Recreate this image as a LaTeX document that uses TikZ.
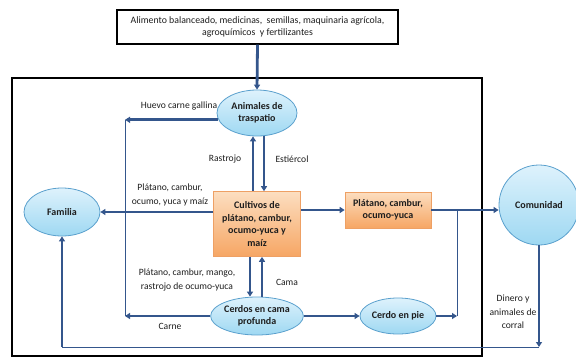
\documentclass[tikz,border=0pt]{standalone}
\usepackage{fontspec}
\setmainfont{Carlito}
\usetikzlibrary{shapes.geometric,arrows.meta,calc}
\definecolor{lineblue}{RGB}{52,86,140}
\definecolor{ellborder}{RGB}{90,160,205}
\definecolor{elltop}{RGB}{222,242,252}
\definecolor{ellbot}{RGB}{158,216,242}
\definecolor{boxtop}{RGB}{252,222,192}
\definecolor{boxbot}{RGB}{246,166,100}
\definecolor{boxborder}{RGB}{238,160,100}
\definecolor{txt}{RGB}{30,30,30}
\tikzset{
  ell/.style={ellipse, draw=ellborder, line width=0.8pt, top color=elltop, bottom color=ellbot,
    text=txt, font=\fontsize{10}{11.5}\selectfont\bfseries, align=center, inner sep=0pt},
  obox/.style={rectangle, draw=boxborder, line width=0.6pt, top color=boxtop, bottom color=boxbot,
    text=txt, font=\fontsize{10}{12.5}\selectfont\bfseries, align=center, inner sep=0pt},
  flow/.style={draw=lineblue, line width=2.8pt, -{Triangle[length=5pt,width=6pt]}},
  thin/.style={draw=lineblue, line width=0.8pt},
  lbl/.style={text=txt, font=\fontsize{9.6}{13.5}\selectfont, align=center, inner sep=0pt},
}
\begin{document}
\begin{tikzpicture}[x=1pt,y=-1pt]
\useasboundingbox (0,0) rectangle (576,362);
% frame
\draw[line width=1.3pt] (12,78) rectangle (482,356);
% nodes
\node[draw, line width=1.3pt, fill=white, minimum width=281pt, minimum height=34pt, align=center,
  text=txt, font=\fontsize{9.8}{12.5}\selectfont, inner sep=0pt] (top) at (257.5,27)
  {Alimento balanceado, medicinas,\ \ semillas, maquinaria agrícola,\\agroquímicos\ \ y fertilizantes};
\node[ell, minimum width=80pt, minimum height=46pt] (anim) at (257,113) {Animales de\\traspatio};
\node[ell, minimum width=76pt, minimum height=48pt] (fam) at (62,212) {Familia};
\node[obox, minimum width=87pt, minimum height=65pt] (cult) at (257,224)
  {Cultivos de\\plátano, cambur,\\ocumo-yuca y\\maíz};
\node[obox, minimum width=86pt, minimum height=36pt] (plat) at (388,210) {Plátano, cambur,\\ocumo-yuca};
\node[circle, draw=ellborder, line width=0.8pt, top color=elltop, bottom color=ellbot,
  minimum size=80pt, inner sep=0pt, text=txt, font=\fontsize{10}{12}\selectfont\bfseries] (com) at (539,205) {Comunidad};
\node[ell, minimum width=80pt, minimum height=38pt] (cer) at (257,316) {Cerdos en cama\\profunda};
\node[ell, minimum width=76pt, minimum height=36pt] (pie) at (398,316) {Cerdo en pie};
% helper coordinates
\coordinate (hx) at (125,0);
\coordinate (jx) at (457,0);
\coordinate (by) at (0,347);
% top box to animales
\draw[flow] (top.south) -- (anim.north);
% huevo / carne
\draw[flow] (anim.190) -- (anim.190 -| hx);
\draw[thin] (anim.190 -| hx) -- (cer.west -| hx);
\draw[flow] (cer.west) -- (cer.west -| hx);
% cultivos to familia
\draw[flow] (cult.west |- fam.east) -- (fam.east);
% animales <-> cultivos
\draw[flow] ($(cult.north)+(-4,0)$) -- ($(anim.south)+(-4,0)$);
\draw[flow] ($(anim.south)+(7,0)$) -- ($(cult.north)+(7,0)$);
% cultivos <-> cerdos
\draw[flow] ($(cult.south)+(-7,0)$) -- ($(cer.north)+(-7,0)$);
\draw[flow] ($(cer.north)+(5,0)$) -- ($(cult.south)+(5,0)$);
% cultivos -> platano -> comunidad
\draw[flow] (cult.east |- plat.west) -- (plat.west);
\draw[flow] (plat.east) -- (plat.east -| com.west);
% cerdos -> pie -> junction
\draw[flow] (cer.east) -- (pie.west);
\draw[flow] (pie.east) -- (pie.east -| jx);
\draw[thin] (pie.east -| jx) -- (plat.east -| jx);
% comunidad -> familia
\draw[flow] (com.south) -- (com.south |- by);
\draw[thin] (com.south |- by) -- (fam.south |- by);
\draw[flow] (fam.south |- by) -- (fam.south);
% labels
\node[lbl] (l1) at (179,106) {Huevo carne gallina};
\node[lbl] (l2) at (225,159) {Rastrojo};
\node[lbl] (l3) at (292,159) {Estiércol};
\node[lbl] (l4) at (170,195) {Plátano, cambur,\\ocumo, yuca y maíz};
\node[lbl] (l5) at (187,280) {Plátano, cambur, mango,\\rastrojo de ocumo-yuca};
\node[lbl] (l6) at (287,282) {Cama};
\node[lbl] (l7) at (170,326) {Carne};
\node[lbl] (l8) at (513,312) {Dinero y\\animales de\\corral};
\end{tikzpicture}
\end{document}
